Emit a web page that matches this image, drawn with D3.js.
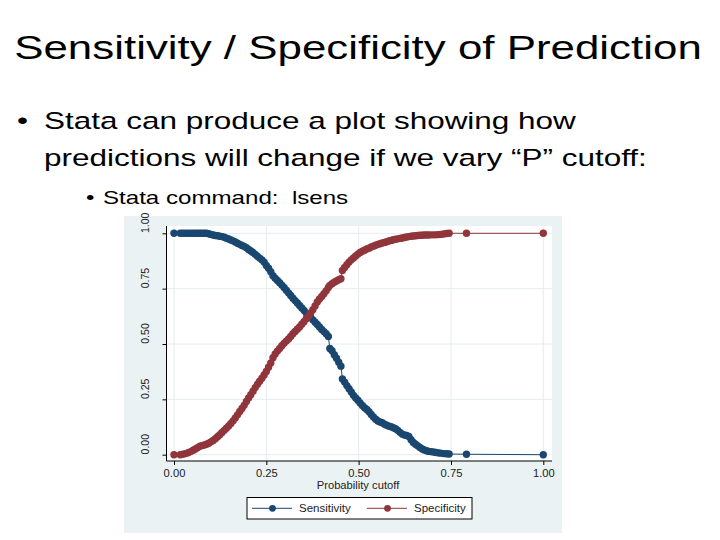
<!DOCTYPE html>
<html>
<head>
<meta charset="utf-8">
<script src="https://cdn.jsdelivr.net/npm/d3@7"></script>
<style>
  body { margin: 0; background: #fff; }
  svg { display: block; font-family: "Liberation Sans", Arial, sans-serif; }
  text { white-space: pre; }
</style>
</head>
<body>
<script>
// probability cutoffs (shared by both series)
const cutoffs = [
  0.000, 0.017, 0.024, 0.031, 0.038, 0.045, 0.052, 0.058, 0.064, 0.070,
  0.076, 0.082, 0.088, 0.094, 0.100, 0.106, 0.112, 0.118, 0.124, 0.130,
  0.136, 0.142, 0.148, 0.154, 0.160, 0.166, 0.172, 0.178, 0.184, 0.190,
  0.196, 0.202, 0.208, 0.214, 0.220, 0.226, 0.232, 0.238, 0.244, 0.250,
  0.256, 0.262, 0.268, 0.274, 0.280, 0.286, 0.292, 0.298, 0.304, 0.310,
  0.316, 0.322, 0.328, 0.334, 0.340, 0.346, 0.352, 0.358, 0.364, 0.370,
  0.376, 0.382, 0.388, 0.394, 0.400, 0.406, 0.412, 0.418, 0.422, 0.428,
  0.434, 0.440, 0.446, 0.452, 0.456, 0.462, 0.468, 0.474, 0.480, 0.486,
  0.492, 0.498, 0.504, 0.510, 0.516, 0.522, 0.528, 0.534, 0.540, 0.546,
  0.552, 0.558, 0.564, 0.570, 0.576, 0.582, 0.588, 0.594, 0.600, 0.606,
  0.612, 0.618, 0.624, 0.630, 0.636, 0.642, 0.648, 0.654, 0.660, 0.666,
  0.672, 0.678, 0.684, 0.690, 0.698, 0.706, 0.714, 0.722, 0.730, 0.738,
  0.745, 0.792, 1.000
];

const sensitivity = [
  1.000, 1.000, 1.000, 1.000, 1.000, 1.000, 1.000, 1.000, 1.000, 1.000,
  1.000, 1.000, 1.000, 0.998, 0.995, 0.992, 0.990, 0.989, 0.987, 0.985,
  0.982, 0.978, 0.974, 0.970, 0.966, 0.961, 0.955, 0.950, 0.945, 0.941,
  0.935, 0.927, 0.920, 0.913, 0.905, 0.896, 0.888, 0.880, 0.870, 0.855,
  0.842, 0.826, 0.808, 0.797, 0.787, 0.777, 0.766, 0.755, 0.743, 0.731,
  0.719, 0.707, 0.696, 0.685, 0.674, 0.663, 0.652, 0.640, 0.630, 0.620,
  0.609, 0.598, 0.588, 0.577, 0.566, 0.556, 0.546, 0.534, 0.480, 0.470,
  0.452, 0.436, 0.418, 0.400, 0.342, 0.328, 0.312, 0.298, 0.283, 0.268,
  0.256, 0.246, 0.234, 0.222, 0.212, 0.204, 0.194, 0.182, 0.170, 0.160,
  0.152, 0.148, 0.144, 0.138, 0.133, 0.129, 0.126, 0.122, 0.117, 0.110,
  0.101, 0.093, 0.089, 0.087, 0.082, 0.068, 0.055, 0.047, 0.040, 0.033,
  0.026, 0.021, 0.018, 0.015, 0.013, 0.011, 0.009, 0.007, 0.005, 0.004,
  0.003, 0.002, 0.000
];

const specificity = [
  0.000, 0.000, 0.002, 0.005, 0.009, 0.014, 0.020, 0.026, 0.032, 0.038,
  0.041, 0.044, 0.047, 0.052, 0.058, 0.064, 0.072, 0.081, 0.090, 0.100,
  0.110, 0.120, 0.130, 0.141, 0.153, 0.166, 0.180, 0.195, 0.209, 0.223,
  0.240, 0.256, 0.271, 0.287, 0.303, 0.318, 0.332, 0.345, 0.360, 0.376,
  0.395, 0.414, 0.438, 0.455, 0.468, 0.480, 0.492, 0.503, 0.513, 0.523,
  0.534, 0.546, 0.557, 0.567, 0.577, 0.589, 0.601, 0.614, 0.626, 0.640,
  0.655, 0.672, 0.690, 0.703, 0.715, 0.727, 0.740, 0.755, 0.765, 0.772,
  0.779, 0.785, 0.790, 0.795, 0.832, 0.846, 0.858, 0.870, 0.880, 0.889,
  0.898, 0.906, 0.913, 0.919, 0.924, 0.929, 0.933, 0.938, 0.942, 0.946,
  0.950, 0.953, 0.956, 0.959, 0.962, 0.965, 0.968, 0.971, 0.973, 0.975,
  0.977, 0.979, 0.981, 0.983, 0.985, 0.987, 0.988, 0.989, 0.990, 0.991,
  0.991, 0.992, 0.992, 0.992, 0.993, 0.993, 0.994, 0.995, 0.997, 0.999,
  1.000, 1.000, 1.000
];

const tickValues = [0, 0.25, 0.5, 0.75, 1];
const seriesNames = ["Sensitivity", "Specificity"];
const seriesColors = ["#1a476f", "#90353b"];

const titleText = "Sensitivity / Specificity of Prediction";
const bulletLines = [
  "Stata can produce a plot showing how",
  "predictions will change if we vary \u201cP\u201d cutoff:"
];
const subBullet = "Stata command:  lsens";

const w = 720, h = 540;
const sx = 1.34; // slide text is stretched horizontally

const svg = d3.select("body").append("svg")
  .attr("width", w)
  .attr("height", h);

svg.append("rect").attr("width", w).attr("height", h).attr("fill", "#fff");

// slide text
svg.append("text")
  .attr("transform", `translate(358,59) scale(1.33,1)`)
  .attr("text-anchor", "middle")
  .attr("font-size", 33)
  .attr("fill", "#000")
  .text(titleText);

svg.append("text")
  .attr("transform", `translate(17,129) scale(${sx},1)`)
  .attr("font-size", 23.5)
  .text("\u2022");

bulletLines.forEach((t, i) => {
  svg.append("text")
    .attr("transform", `translate(44,${129 + i * 37}) scale(${sx},1)`)
    .attr("font-size", 23.5)
    .attr("fill", "#000")
    .text(t);
});

svg.append("text")
  .attr("transform", `translate(86,204) scale(${sx},1)`)
  .attr("font-size", 18)
  .text("\u2022");

svg.append("text")
  .attr("transform", `translate(103,204) scale(${sx},1)`)
  .attr("font-size", 18)
  .attr("fill", "#000")
  .text(subBullet);

// Stata graph
const graph = { x0: 124, y0: 216, x1: 562, y1: 533 };
const plot = { x0: 166.5, y0: 226, x1: 552, y1: 461 };

svg.append("rect")
  .attr("x", graph.x0).attr("y", graph.y0)
  .attr("width", graph.x1 - graph.x0).attr("height", graph.y1 - graph.y0)
  .attr("fill", "#eaf2f3");

svg.append("rect")
  .attr("x", plot.x0).attr("y", plot.y0)
  .attr("width", plot.x1 - plot.x0).attr("height", plot.y1 - plot.y0)
  .attr("fill", "#fff");

let x = d3.scaleLinear().domain([0, 1]).range([174, 543.3]);
let y = d3.scaleLinear().domain([0, 1]).range([454.7, 233.3]);

// gridlines
svg.append("g")
  .selectAll("line.hg")
  .data(tickValues)
  .enter().append("line")
  .attr("x1", plot.x0).attr("x2", plot.x1)
  .attr("y1", d => y(d)).attr("y2", d => y(d))
  .attr("stroke", "#e6ecee").attr("stroke-width", 1);

svg.append("g")
  .selectAll("line.vg")
  .data(tickValues)
  .enter().append("line")
  .attr("x1", d => x(d)).attr("x2", d => x(d))
  .attr("y1", plot.y0).attr("y2", plot.y1)
  .attr("stroke", "#e6ecee").attr("stroke-width", 1);

// axes
const xAxis = svg.append("g")
  .attr("transform", `translate(0,${plot.y1})`)
  .call(d3.axisBottom(x).tickValues(tickValues).tickFormat(d3.format(".2f")).tickSize(4).tickSizeOuter(0));
xAxis.select(".domain").attr("d", `M${plot.x0},0H${plot.x1}`).attr("stroke", "#000");
xAxis.selectAll(".tick line").attr("stroke", "#000");
xAxis.selectAll(".tick text")
  .attr("y", 8)
  .attr("font-size", 11.2)
  .attr("font-family", "Liberation Sans, Arial, sans-serif")
  .attr("fill", "#222");

const yAxis = svg.append("g")
  .attr("transform", `translate(${plot.x0},0)`)
  .call(d3.axisLeft(y).tickValues(tickValues).tickFormat(d3.format(".2f")).tickSize(4).tickSizeOuter(0));
yAxis.select(".domain").attr("d", `M0,${plot.y0}V${plot.y1}`).attr("stroke", "#000");
yAxis.selectAll(".tick line").attr("stroke", "#000");
yAxis.selectAll(".tick text")
  .attr("x", null).attr("dy", null)
  .attr("transform", "translate(-22,-11) rotate(-90)")
  .attr("text-anchor", "middle")
  .attr("dominant-baseline", "central")
  .attr("font-size", 10.5)
  .attr("font-family", "Liberation Sans, Arial, sans-serif")
  .attr("fill", "#222");

svg.append("text")
  .attr("x", 358).attr("y", 489)
  .attr("text-anchor", "middle")
  .attr("font-size", 11.2)
  .attr("fill", "#222")
  .text("Probability cutoff");

// series
const series = [sensitivity, specificity];
const line = d3.line()
  .x((d, i) => x(cutoffs[i]))
  .y(d => y(d));

series.forEach((vals, k) => {
  const g = svg.append("g");
  g.append("path")
    .datum(vals)
    .attr("d", line)
    .attr("fill", "none")
    .attr("stroke", seriesColors[k])
    .attr("stroke-width", 1);
  g.selectAll("circle")
    .data(vals)
    .enter().append("circle")
    .attr("cx", (d, i) => x(cutoffs[i]))
    .attr("cy", d => y(d))
    .attr("r", 3.7)
    .attr("fill", seriesColors[k]);
});

// legend
const legend = svg.append("g");
legend.append("rect")
  .attr("x", 247).attr("y", 497.5)
  .attr("width", 225).attr("height", 21.5)
  .attr("fill", "#fff").attr("stroke", "#000").attr("stroke-width", 1);

const legendX = [252, 367];
seriesNames.forEach((name, k) => {
  const lx = legendX[k];
  legend.append("line")
    .attr("x1", lx).attr("x2", lx + 40)
    .attr("y1", 508.3).attr("y2", 508.3)
    .attr("stroke", seriesColors[k]).attr("stroke-width", 1);
  legend.append("circle")
    .attr("cx", lx + 20.5).attr("cy", 508.3).attr("r", 3.4)
    .attr("fill", seriesColors[k]);
  legend.append("text")
    .attr("x", lx + 47).attr("y", 512.3)
    .attr("font-size", 11.5)
    .attr("fill", "#222")
    .text(name);
});
</script>
</body>
</html>
